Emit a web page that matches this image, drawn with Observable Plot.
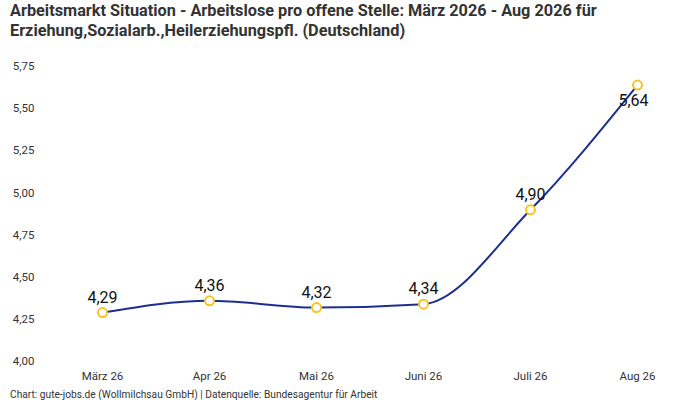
<!DOCTYPE html>
<html><head><meta charset="utf-8">
<script src="https://cdn.jsdelivr.net/npm/d3@7"></script>
<script src="https://cdn.jsdelivr.net/npm/@observablehq/plot@0.6"></script>
<style>
body{margin:0;background:#fff;font-family:Roboto,"Noto Sans",sans-serif;}
#title{font-weight:700;font-size:16.3px;line-height:20px;color:#333;padding:1px 0 0 10px;height:44px;box-sizing:border-box;}
#caption{font-size:10.2px;color:#333;padding:1px 0 0 10px;line-height:14px;}
</style></head>
<body>
<div id="title">Arbeitsmarkt Situation - Arbeitslose pro offene Stelle: März 2026 - Aug 2026 für<br>Erziehung,Sozialarb.,Heilerziehungspfl. (Deutschland)</div>
<div id="chart"></div>
<div id="caption">Chart: gute-jobs.de (Wollmilchsau GmbH) | Datenquelle: Bundesagentur für Arbeit</div>
<script>
const months = ["März 26","Apr 26","Mai 26","Juni 26","Juli 26","Aug 26"];
const values = [4.29, 4.36, 4.32, 4.34, 4.90, 5.64];
const yTicks = [4.00, 4.25, 4.50, 4.75, 5.00, 5.25, 5.50, 5.75];

const de = d3.formatLocale({decimal:",", thousands:".", grouping:[3], currency:["","€"]});
const fmt = de.format(".2f");
const data = months.map((m,i)=>({month:m, value:values[i], last:i===months.length-1}));

const chart = Plot.plot({
  width:700, height:343,
  marginTop:22, marginBottom:26, marginLeft:48, marginRight:10,
  style:{fontFamily:"Roboto, 'Noto Sans', sans-serif", fontSize:"11.5px", color:"#333", background:"#fff"},
  x:{type:"point", domain:months, padding:0.5, label:null, tickSize:0, tickPadding:10},
  y:{domain:[4,5.75], ticks:yTicks, tickFormat:fmt, label:null, tickSize:0, tickPadding:14},
  marks:[
    Plot.gridY(yTicks,{stroke:"#bbb", strokeOpacity:1, strokeDasharray:"4,3", x1:45, x2:690}),
    Plot.axisX({tickSize:0, tickPadding:10, fontSize:11.5}),
    Plot.axisY(yTicks,{tickSize:0, tickPadding:14, tickFormat:fmt, fontSize:11.5}),
    Plot.line(data,{x:"month", y:"value", stroke:"#1c2f91", strokeWidth:2, curve:"monotone-x"}),
    Plot.dot(data,{x:"month", y:"value", r:4.5, fill:"#fff", stroke:"#f7c325", strokeWidth:2}),
    Plot.text(data.filter(d=>!d.last),{x:"month", y:"value", text:d=>fmt(d.value), dy:-15, fontSize:16, fill:"#111"}),
    Plot.text(data.filter(d=>d.last),{x:"month", y:"value", text:d=>fmt(d.value), dx:-4, dy:16, fontSize:16, fill:"#111"})
  ]
});
document.getElementById("chart").appendChild(chart);
</script>
</body></html>
